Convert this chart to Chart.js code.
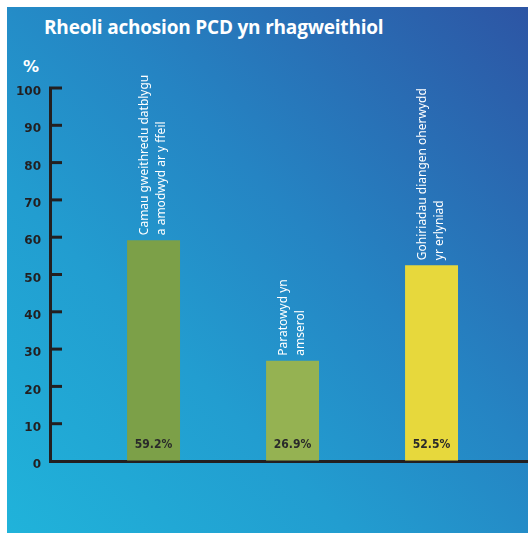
<!DOCTYPE html>
<html lang="cy">
<head>
  <meta charset="UTF-8">
  <title>Rheoli achosion PCD yn rhagweithiol</title>
  <script src="https://cdn.jsdelivr.net/npm/chart.js"></script>
  <style>
    html, body { margin: 0; padding: 0; background: #fff; }
    body { width: 528px; height: 533px; position: relative; overflow: hidden; }
    .panel {
      position: absolute; left: 7px; top: 7px; width: 521px; height: 526px;
      background: linear-gradient(to top right, #20b3da 0%, #229dd0 33%, #2584c3 58%, #2d55a4 100%);
    }
    .title {
      position: absolute; left: 44px; top: 14px; margin: 0;
      font: 700 19px "Open Sans", sans-serif; color: #fff; letter-spacing: -0.2px;
    }
    .unit {
      position: absolute; left: 23px; top: 57px;
      font: 700 16px "DejaVu Sans", sans-serif; color: #fff;
    }
    canvas { position: absolute; left: 0; top: 0; }
  </style>
</head>
<body>
  <div class="panel"></div>
  <h1 class="title">Rheoli achosion PCD yn rhagweithiol</h1>
  <div class="unit">%</div>
  <canvas id="chart" width="528" height="533"></canvas>

  <script>
    // data
    const categories = [
      ['Camau gweithredu datblygu', 'a amodwyd ar y ffeil'],
      ['Paratowyd yn', 'amserol'],
      ['Gohiriadau diangen oherwydd', 'yr erlyniad']
    ];
    const values = [59.2, 26.9, 52.5];
    const barColors = ['#7ca048', '#95b252', '#e7d83c'];
    const yTicks = { min: 0, max: 100, step: 10 };

    const ink = '#231f20';

    // labels on top of and inside the bars, plus inward tick marks
    const decor = {
      id: 'decor',
      afterDraw(chart) {
        const c = chart.ctx;
        const y = chart.scales.y;
        const left = chart.chartArea.left;
        c.save();
        c.strokeStyle = ink;
        c.lineWidth = 3;
        y.ticks.forEach(t => {
          const py = y.getPixelForValue(t.value);
          if (t.value === yTicks.min) return;
          c.beginPath();
          c.moveTo(left - 1, py);
          c.lineTo(left + 12, py);
          c.stroke();
        });

        const meta = chart.getDatasetMeta(0);
        meta.data.forEach((bar, i) => {
          // value inside bar
          c.fillStyle = '#2a2a2a';
          c.font = 'bold 12px "DejaVu Sans Condensed"';
          c.textAlign = 'center';
          c.textBaseline = 'middle';
          c.fillText(values[i].toFixed(1) + '%', bar.x, bar.base - 16);

          // rotated category label above bar
          c.save();
          c.translate(bar.x, bar.y - 5);
          c.rotate(-Math.PI / 2);
          c.fillStyle = '#fff';
          c.font = '12px "Noto Sans"';
          c.textAlign = 'left';
          c.textBaseline = 'middle';
          const lines = categories[i];
          const lh = 17;
          lines.forEach((ln, k) => {
            c.fillText(ln, 0, (k - (lines.length - 1) / 2) * lh);
          });
          c.restore();
        });
        c.restore();
      }
    };

    new Chart(document.getElementById('chart'), {
      type: 'bar',
      data: {
        datasets: [{
          data: values.map((v, i) => ({ x: i + 1, y: v })),
          backgroundColor: barColors,
          borderWidth: 0,
          categoryPercentage: 0.381,
          barPercentage: 1
        }]
      },
      options: {
        responsive: false,
        animation: false,
        layout: { padding: { top: 88, bottom: 72, left: 0, right: 0 } },
        plugins: { legend: { display: false }, tooltip: { enabled: false }, title: { display: false } },
        scales: {
          x: {
            type: 'linear',
            offset: false,
            min: 0.255,
            max: 3.694,
            afterBuildTicks: s => { s.ticks = values.map((v, i) => ({ value: i + 1 })); },
            grid: { drawOnChartArea: false, drawTicks: false },
            border: { color: ink, width: 3 },
            ticks: { display: false }
          },
          y: {
            min: yTicks.min,
            max: yTicks.max,
            afterFit: s => { s.width = 50; },
            grid: { drawOnChartArea: false, drawTicks: false },
            border: { color: ink, width: 3 },
            ticks: {
              stepSize: yTicks.step,
              padding: 9,
              labelOffset: 4,
              color: ink,
              font: { family: 'DejaVu Sans', weight: 'bold', size: 12 }
            }
          }
        }
      },
      plugins: [decor]
    });
  </script>
</body>
</html>
